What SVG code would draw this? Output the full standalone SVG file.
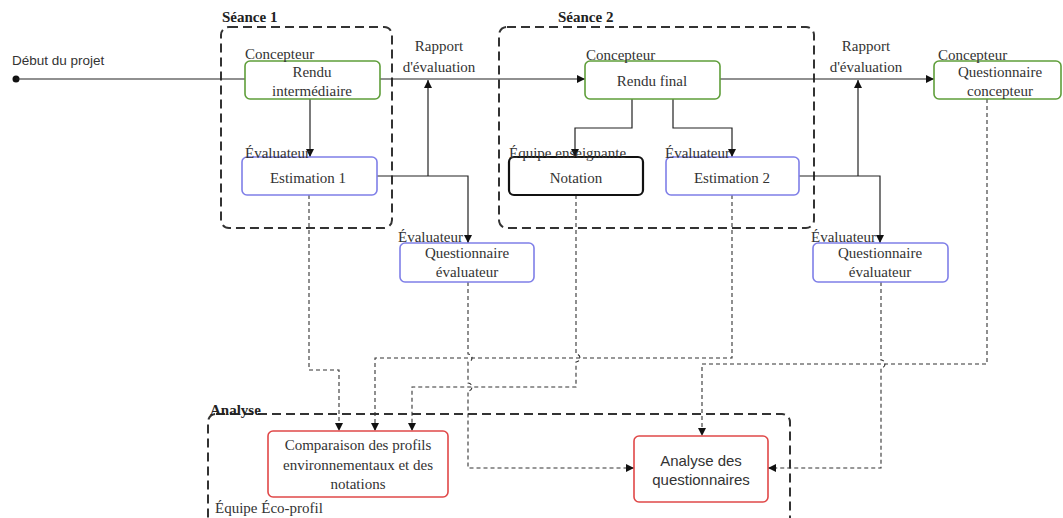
<svg xmlns="http://www.w3.org/2000/svg" width="1063" height="518" viewBox="0 0 1063 518">
<style>
.bg{fill:#fff}
.grp{fill:none;stroke:#333;stroke-width:2;stroke-dasharray:9 5}
.box{fill:#fff;stroke-width:1.6}
.g{stroke:#5f9e3a}
.b{stroke:#7f7fe8}
.r{stroke:#e04848}
.k{stroke:#111;stroke-width:2.2}
.t{font-family:"Liberation Serif","Times New Roman",serif;font-size:15px;fill:#333}
.tc{text-anchor:middle}
.bold{font-weight:bold;fill:#222}
.s{font-family:"Liberation Sans",Arial,sans-serif;fill:#333}
.ln{fill:none;stroke:#222;stroke-width:1.2}
.dl{fill:none;stroke:#333;stroke-width:1.1;stroke-dasharray:4 3}
</style>
<defs>
<marker id="ar" markerWidth="9" markerHeight="9" refX="8" refY="4" orient="auto" markerUnits="userSpaceOnUse">
<path d="M0,0 L8,4 L0,8 z" fill="#111"/>
</marker>
</defs>
<rect class="bg" x="0" y="0" width="1063" height="518"/>

<g id="seance1">
<rect class="grp" x="221" y="27" width="171" height="201" rx="8"/>
<text class="t bold" x="222" y="22">Séance 1</text>
</g>
<g id="seance2">
<rect class="grp" x="499" y="27" width="315" height="201" rx="8"/>
<text class="t bold" x="558" y="22">Séance 2</text>
</g>
<g id="analyse">
<rect class="grp" x="208" y="414" width="582" height="130" rx="8"/>
<text class="t bold" x="210" y="415">Analyse</text>
<text class="t" x="215" y="513">Équipe Éco-profil</text>
</g>

<g id="connectors">
<circle cx="16" cy="79" r="3.5" fill="#111"/>
<path class="ln" d="M16,79 H245"/>
<path class="ln" d="M310,99 V157" marker-end="url(#ar)"/>
<path class="ln" d="M380,79 H585" marker-end="url(#ar)"/>
<path class="ln" d="M377,176 H468 V243" marker-end="url(#ar)"/>
<path class="ln" d="M428,176 V80" marker-end="url(#ar)"/>
<path class="ln" d="M632,99 V128 H575 V157" marker-end="url(#ar)"/>
<path class="ln" d="M673,99 V128 H732 V157" marker-end="url(#ar)"/>
<path class="ln" d="M720,79 H934" marker-end="url(#ar)"/>
<path class="ln" d="M799,176 H880 V243" marker-end="url(#ar)"/>
<path class="ln" d="M858,176 V80" marker-end="url(#ar)"/>

<path class="dl" d="M309,195 V370 H339 V431" marker-end="url(#ar)"/>
<path class="dl" d="M576,195 V354 a4,4 0 0 1 0,8 V387 H412 V431" marker-end="url(#ar)"/>
<path class="dl" d="M732,195 V358 H375 V431" marker-end="url(#ar)"/>
<path class="dl" d="M468,282 V354 a4,4 0 0 1 0,8 V383 a4,4 0 0 1 0,8 V468 H634" marker-end="url(#ar)"/>
<path class="dl" d="M987,99 V364 H702 V436" marker-end="url(#ar)"/>
<path class="dl" d="M881,282 V360 a4,4 0 0 1 0,8 V468 H768" marker-end="url(#ar)"/>

<text class="s" x="12" y="65" font-size="13.5">Début du projet</text>
<text class="t tc" x="439" y="51">Rapport</text>
<text class="t tc" x="439" y="72">d'évaluation</text>
<text class="t tc" x="866" y="51">Rapport</text>
<text class="t tc" x="866" y="72">d'évaluation</text>
</g>

<g id="rendu-intermediaire">
<rect class="box g" x="245" y="61" width="135" height="38" rx="5"/>
<text class="t" x="245" y="59">Concepteur</text>
<text class="t tc" x="312" y="77">Rendu</text>
<text class="t tc" x="312" y="96">intermédiaire</text>
</g>
<g id="estimation1">
<rect class="box b" x="242" y="157" width="135" height="38" rx="5"/>
<text class="t" x="245" y="158">Évaluateur</text>
<text class="t tc" x="308" y="183">Estimation 1</text>
</g>
<g id="questionnaire-evaluateur1">
<rect class="box b" x="400" y="243" width="134" height="39" rx="5"/>
<text class="t" x="398" y="242">Évaluateur</text>
<text class="t tc" x="467" y="258">Questionnaire</text>
<text class="t tc" x="467" y="277">évaluateur</text>
</g>
<g id="rendu-final">
<rect class="box g" x="585" y="61" width="135" height="38" rx="5"/>
<text class="t" x="586" y="60">Concepteur</text>
<text class="t tc" x="652" y="86">Rendu final</text>
</g>
<g id="notation">
<rect class="box k" x="509" y="157" width="134" height="38" rx="5"/>
<text class="t" x="509" y="158">Équipe enseignante</text>
<text class="t tc" x="576" y="183">Notation</text>
</g>
<g id="estimation2">
<rect class="box b" x="666" y="157" width="133" height="38" rx="5"/>
<text class="t" x="665" y="158">Évaluateur</text>
<text class="t tc" x="732" y="183">Estimation 2</text>
</g>
<g id="questionnaire-concepteur">
<rect class="box g" x="934" y="61" width="127" height="38" rx="5"/>
<text class="t" x="938" y="60">Concepteur</text>
<text class="t tc" x="1000" y="77">Questionnaire</text>
<text class="t tc" x="1000" y="96">concepteur</text>
</g>
<g id="questionnaire-evaluateur2">
<rect class="box b" x="813" y="243" width="135" height="39" rx="5"/>
<text class="t" x="811" y="242">Évaluateur</text>
<text class="t tc" x="880" y="258">Questionnaire</text>
<text class="t tc" x="880" y="277">évaluateur</text>
</g>
<g id="comparaison">
<rect class="box r" x="268" y="431" width="180" height="66" rx="5"/>
<text class="t tc" x="358" y="450">Comparaison des profils</text>
<text class="t tc" x="358" y="470">environnementaux et des</text>
<text class="t tc" x="358" y="489">notations</text>
</g>
<g id="analyse-questionnaires">
<rect class="box r" x="634" y="436" width="134" height="66" rx="5"/>
<text class="s tc" x="701" y="466" font-size="15">Analyse des</text>
<text class="s tc" x="701" y="485" font-size="15">questionnaires</text>
</g>
</svg>
